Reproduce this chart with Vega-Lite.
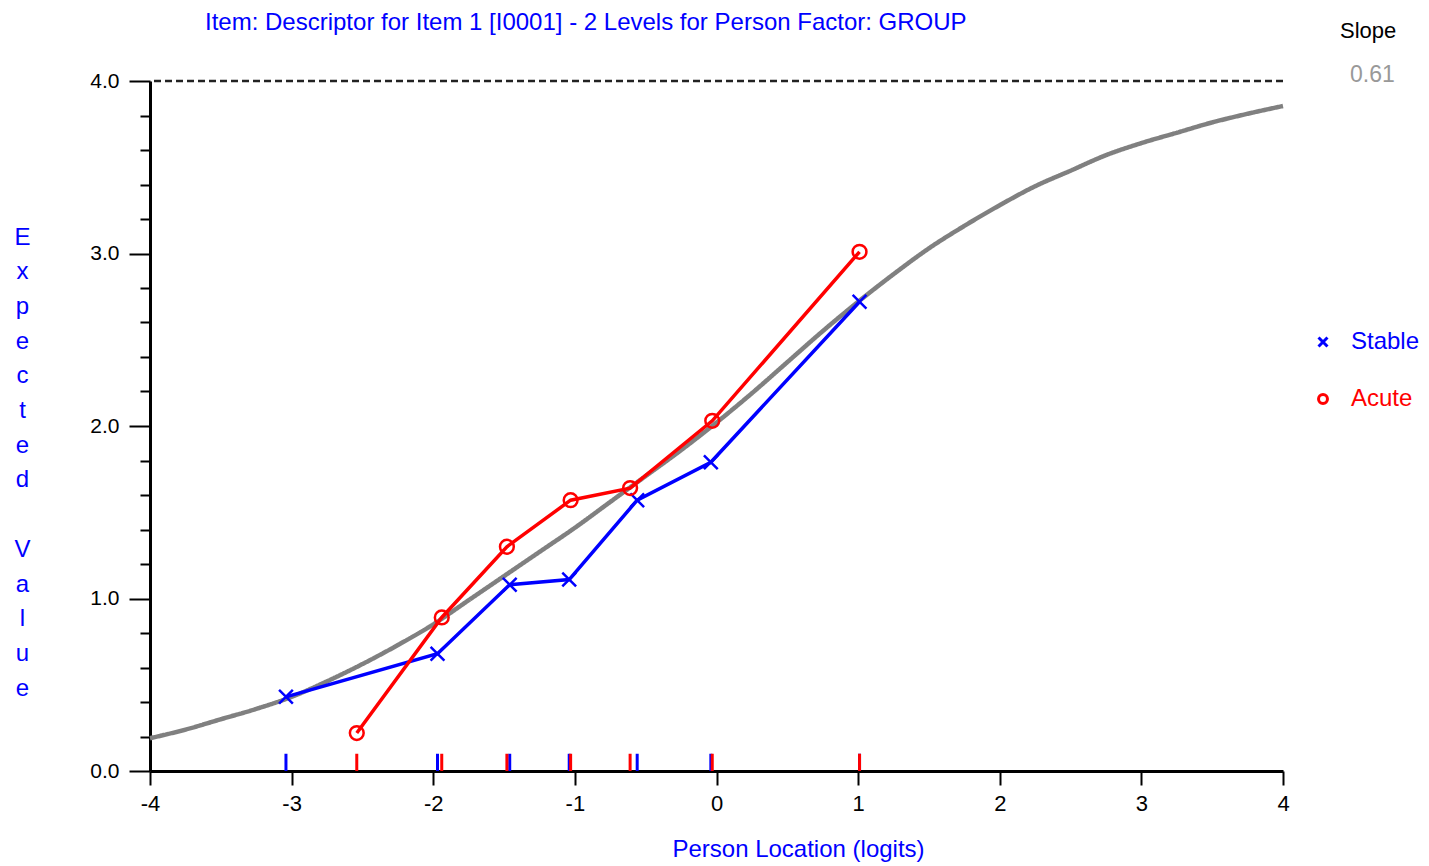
{
  "$schema": "https://vega.github.io/schema/vega-lite/v6.json",
  "width": 1133,
  "height": 690,
  "autosize": {"type": "none"},
  "padding": {"left": 150, "top": 81, "right": 146, "bottom": 95},
  "background": "white",
  "config": {
    "view": {"stroke": null},
    "font": "Liberation Sans",
    "axis": {
      "grid": false,
      "domainColor": "black",
      "domainWidth": 3,
      "tickColor": "black",
      "tickWidth": 2,
      "labelColor": "black",
      "labelFont": "Liberation Sans",
      "labelFontSize": 21,
      "titleFont": "Liberation Sans",
      "titleColor": "#0000ff",
      "titleFontWeight": "normal"
    }
  },
  "title": {
    "text": "Item: Descriptor for Item 1 [I0001] - 2 Levels for Person Factor: GROUP",
    "anchor": "start",
    "frame": "group",
    "dx": 55,
    "dy": 43,
    "offset": 10,
    "baseline": "alphabetic",
    "fontSize": 24,
    "font": "Liberation Sans",
    "fontWeight": "normal",
    "color": "#0000ff"
  },
  "datasets": {
    "curve": [
      {"x": -4, "y": 0.19, "slope": "0.61"},
      {"x": -3.75, "y": 0.24, "slope": "0.61"},
      {"x": -3.5, "y": 0.30, "slope": "0.61"},
      {"x": -3.25, "y": 0.36, "slope": "0.61"},
      {"x": -3, "y": 0.43, "slope": "0.61"},
      {"x": -2.75, "y": 0.52, "slope": "0.61"},
      {"x": -2.5, "y": 0.62, "slope": "0.61"},
      {"x": -2.25, "y": 0.73, "slope": "0.61"},
      {"x": -2, "y": 0.85, "slope": "0.61"},
      {"x": -1.75, "y": 0.99, "slope": "0.61"},
      {"x": -1.5, "y": 1.13, "slope": "0.61"},
      {"x": -1.25, "y": 1.27, "slope": "0.61"},
      {"x": -1, "y": 1.41, "slope": "0.61"},
      {"x": -0.75, "y": 1.56, "slope": "0.61"},
      {"x": -0.5, "y": 1.71, "slope": "0.61"},
      {"x": -0.25, "y": 1.86, "slope": "0.61"},
      {"x": 0, "y": 2.02, "slope": "0.61"},
      {"x": 0.25, "y": 2.19, "slope": "0.61"},
      {"x": 0.5, "y": 2.37, "slope": "0.61"},
      {"x": 0.75, "y": 2.55, "slope": "0.61"},
      {"x": 1, "y": 2.72, "slope": "0.61"},
      {"x": 1.25, "y": 2.88, "slope": "0.61"},
      {"x": 1.5, "y": 3.03, "slope": "0.61"},
      {"x": 1.75, "y": 3.16, "slope": "0.61"},
      {"x": 2, "y": 3.28, "slope": "0.61"},
      {"x": 2.25, "y": 3.39, "slope": "0.61"},
      {"x": 2.5, "y": 3.48, "slope": "0.61"},
      {"x": 2.75, "y": 3.57, "slope": "0.61"},
      {"x": 3, "y": 3.64, "slope": "0.61"},
      {"x": 3.25, "y": 3.70, "slope": "0.61"},
      {"x": 3.5, "y": 3.76, "slope": "0.61"},
      {"x": 3.75, "y": 3.81, "slope": "0.61"},
      {"x": 4, "y": 3.855, "slope": "0.61"}
    ],
    "obs": [
      {"group": "Stable", "x": -3.04, "y": 0.43},
      {"group": "Stable", "x": -1.97, "y": 0.68},
      {"group": "Stable", "x": -1.46, "y": 1.08},
      {"group": "Stable", "x": -1.04, "y": 1.11},
      {"group": "Stable", "x": -0.56, "y": 1.57},
      {"group": "Stable", "x": -0.04, "y": 1.79},
      {"group": "Stable", "x": 1.01, "y": 2.72},
      {"group": "Acute", "x": -2.54, "y": 0.22},
      {"group": "Acute", "x": -1.94, "y": 0.89},
      {"group": "Acute", "x": -1.48, "y": 1.30},
      {"group": "Acute", "x": -1.03, "y": 1.57},
      {"group": "Acute", "x": -0.61, "y": 1.64},
      {"group": "Acute", "x": -0.03, "y": 2.03},
      {"group": "Acute", "x": 1.01, "y": 3.01}
    ]
  },
  "layer": [
    {
      "data": {"name": "curve"},
      "mark": {"type": "line", "color": "#808080", "strokeWidth": 4.5, "interpolate": "monotone"},
      "encoding": {
        "x": {
          "field": "x",
          "type": "quantitative",
          "scale": {"domain": [-4, 4], "nice": false, "zero": false},
          "axis": {
            "values": [-4, -3, -2, -1, 0, 1, 2, 3, 4],
            "tickCount": 100,
            "labelFlush": false,
            "labelExpr": "'' + datum.value",
            "labelFontSize": 22,
            "tickSize": 14,
            "labelPadding": 8,
            "title": "Person Location (logits)",
            "titleFontSize": 24,
            "titleX": 648,
            "titleY": 85,
            "titleAlign": "center",
            "titleBaseline": "alphabetic"
          }
        },
        "y": {
          "field": "y",
          "type": "quantitative",
          "scale": {"domain": [0, 4], "nice": false},
          "axis": {
            "values": [0, 0.2, 0.4, 0.6, 0.8, 1, 1.2, 1.4, 1.6, 1.8, 2, 2.2, 2.4, 2.6, 2.8, 3, 3.2, 3.4, 3.6, 3.8, 4],
            "tickCount": 100,
            "labelOverlap": false,
            "labelFlush": false,
            "labelExpr": "abs(datum.value - round(datum.value)) < 0.001 ? format(datum.value, '.1f') : ''",
            "tickSize": {"condition": {"test": "abs(datum.value - round(datum.value)) < 0.001", "value": 21}, "value": 10},
            "labelPadding": 10,
            "title": ["E", "x", "p", "e", "c", "t", "e", "d", "\u2800", "V", "a", "l", "u", "e"],
            "titleAngle": 0,
            "titleFontSize": 24,
            "titleLineHeight": 34.7,
            "titleX": -128,
            "titleY": 163,
            "titleAlign": "center",
            "titleBaseline": "alphabetic"
          }
        },
        "strokeDash": {
          "field": "slope",
          "type": "nominal",
          "scale": {"range": [[1, 0]]},
          "legend": {
            "title": "Slope",
            "orient": "none",
            "legendX": 1190,
            "legendY": -60,
            "titleFont": "Liberation Sans",
            "titleFontSize": 22,
            "titleFontWeight": "normal",
            "titleColor": "black",
            "titlePadding": 20,
            "labelFont": "Liberation Sans",
            "labelFontSize": 23,
            "labelColor": "#999999",
            "labelOffset": -13,
            "symbolSize": 0,
            "symbolOpacity": 0,
            "symbolStrokeWidth": 0
          }
        }
      }
    },
    {
      "data": {"values": [{}]},
      "mark": {"type": "rule", "color": "#222222", "strokeWidth": 2.5, "strokeDash": [7, 4]},
      "encoding": {"y": {"datum": 4, "type": "quantitative"}}
    },
    {
      "data": {"name": "obs"},
      "mark": {"type": "line", "strokeWidth": 3.5},
      "encoding": {
        "x": {"field": "x", "type": "quantitative"},
        "y": {"field": "y", "type": "quantitative"},
        "color": {
          "field": "group",
          "type": "nominal",
          "scale": {"domain": ["Stable", "Acute"], "range": ["#0000ff", "#ff0000"]}
        }
      }
    },
    {
      "data": {"name": "obs"},
      "mark": {"type": "rule", "strokeWidth": 3},
      "encoding": {
        "x": {"field": "x", "type": "quantitative"},
        "y": {"datum": 0, "type": "quantitative"},
        "y2": {"datum": 0.1},
        "color": {"field": "group", "type": "nominal"}
      }
    },
    {
      "data": {"name": "obs"},
      "mark": {"type": "point", "filled": false, "strokeWidth": 2.5, "size": 190, "opacity": 1},
      "encoding": {
        "x": {"field": "x", "type": "quantitative"},
        "y": {"field": "y", "type": "quantitative"},
        "color": {
          "field": "group",
          "type": "nominal",
          "legend": {
            "title": null,
            "orient": "none",
            "legendX": 1161,
            "legendY": 249,
            "labelFont": "Liberation Sans",
            "labelFontSize": 24,
            "labelColor": {"expr": "datum.value == 'Stable' ? '#0000ff' : '#ff0000'"},
            "labelOffset": 16,
            "rowPadding": 33,
            "symbolSize": 80,
            "symbolStrokeWidth": 3
          }
        },
        "shape": {
          "field": "group",
          "type": "nominal",
          "scale": {"domain": ["Stable", "Acute"], "range": ["M-1,-1L1,1M1,-1L-1,1", "circle"]},
          "legend": {
            "title": null,
            "orient": "none",
            "legendX": 1161,
            "legendY": 249,
            "labelFont": "Liberation Sans",
            "labelFontSize": 24,
            "labelColor": {"expr": "datum.value == 'Stable' ? '#0000ff' : '#ff0000'"},
            "labelOffset": 16,
            "rowPadding": 33,
            "symbolSize": 80,
            "symbolStrokeWidth": 3
          }
        }
      }
    }
  ]
}
